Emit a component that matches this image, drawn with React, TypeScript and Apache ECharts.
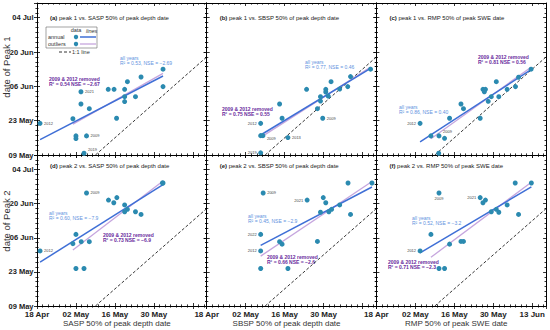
import React, { useEffect, useRef } from "react";
import * as echarts from "echarts";

// Axis origins as day-of-year (non-leap): 18 Apr = 108, 09 May = 129
const X0 = 108;
const Y0 = 129;
const X_SPAN = 61; // 18 Apr .. 18 Jun
const Y_SPAN = 62; // 09 May .. 10 Jul

const xTickLabels = ["18 Apr", "02 May", "16 May", "30 May", "13 Jun"];
const yTickLabels = ["09 May", "23 May", "06 Jun", "20 Jun", "04 Jul"];

const panelLetters = ["(a)", "(b)", "(c)", "(d)", "(e)", "(f)"];
const panelTitles = [
  "peak 1 vs. SASP 50% of peak depth date",
  "peak 1 vs. SBSP 50% of peak depth date",
  "peak 1 vs. RMP 50% of peak SWE date",
  "peak 2 vs. SASP 50% of peak depth date",
  "peak 2 vs. SBSP 50% of peak depth date",
  "peak 2 vs. RMP 50% of peak SWE date",
];
const xTitles = ["SASP 50% of peak depth date", "SBSP 50% of peak depth date", "RMP 50% of peak SWE date"];
const yTitles = ["date of Peak 1", "date of Peak 2"];

// [predictor date (DOY), peak date (DOY)]
const saspPeak1: number[][] = [
  [153.3, 164.0], [153.3, 156.9], [145.4, 160.8], [140.5, 158.9], [133.6, 155.8],
  [135.7, 155.8], [139.5, 155.8], [139.5, 152.8], [139.5, 150.8], [143.4, 152.8],
  [123.8, 154.8], [123.8, 149.8], [126.8, 147.9], [120.9, 143.8], [136.6, 144.0],
  [109.1, 141.9], [122.0, 136.8], [122.0, 135.7], [125.8, 136.8], [124.9, 129.7],
];
const sbspPeak1: number[][] = [
  [166.9, 164.0], [159.7, 161.0], [158.7, 156.9], [155.8, 155.9], [152.7, 158.9],
  [150.8, 155.8], [150.8, 154.7], [151.7, 153.0], [148.9, 152.8], [148.9, 151.0],
  [147.8, 147.9], [143.9, 155.8], [134.2, 149.8], [135.1, 144.0], [149.7, 144.0],
  [127.4, 141.9], [127.4, 136.9], [128.2, 136.9], [137.2, 136.1], [127.4, 129.9],
];
const rmpPeak1: number[][] = [
  [163.6, 164.0], [159.1, 160.7], [158.0, 156.9], [155.0, 155.8], [152.0, 152.8],
  [151.1, 158.9], [149.3, 152.8], [148.2, 150.9], [146.3, 155.8], [147.2, 155.8],
  [146.8, 154.8], [145.3, 144.0], [138.4, 149.8], [139.3, 147.9], [134.3, 144.0],
  [123.7, 141.9], [127.6, 136.8], [130.5, 136.8], [132.5, 135.8], [130.4, 129.7],
];
const saspPeak2: number[][] = [
  [153.1, 179.5], [153.3, 179.5], [125.8, 175.4], [133.7, 172.5], [136.7, 173.5],
  [135.6, 171.4], [139.5, 170.5], [140.5, 168.7], [139.5, 167.7], [143.4, 167.7],
  [145.4, 166.6], [122.0, 158.4], [120.9, 154.6], [123.9, 155.4], [126.8, 155.4],
  [109.1, 151.6], [122.0, 144.4], [124.9, 144.4],
];
const sbspPeak2: number[][] = [
  [158.8, 179.5], [167.4, 179.5], [128.3, 175.4], [144.1, 172.5], [149.9, 173.5],
  [150.8, 171.4], [155.8, 170.5], [152.9, 168.7], [151.9, 167.7], [148.9, 167.5],
  [159.7, 166.6], [127.4, 158.4], [134.2, 155.4], [135.1, 154.4], [147.8, 155.5],
  [127.4, 151.6], [127.4, 144.4], [137.2, 144.4],
];
const rmpPeak2: number[][] = [
  [163.7, 179.5], [157.9, 179.5], [130.5, 175.4], [145.3, 173.5], [147.2, 172.5],
  [146.3, 171.4], [155.0, 170.5], [151.1, 168.7], [149.3, 167.7], [152.0, 167.5],
  [159.1, 166.6], [127.6, 158.4], [134.3, 154.4], [138.4, 155.5], [139.3, 155.5],
  [123.7, 151.6], [130.5, 144.4], [132.5, 144.4],
];

// year labels: [point index, year]
const yearsA: [number, string][] = [[10, "2021"], [15, "2012"], [18, "2009"], [19, "2019"]];
const yearsB: [number, string][] = [[14, "2009"], [15, "2012"], [17, "2009"], [18, "2013"], [19, "2019"]];
const yearsC: [number, string][] = [[15, "2012"], [17, "2009"]];
const yearsD: [number, string][] = [[2, "2009"], [15, "2012"]];
const yearsE: [number, string][] = [[2, "2009"], [3, "2021"], [11, "2022"], [15, "2012"]];
const yearsF: [number, string][] = [[2, "2009"], [3, "2021"], [15, "2012"]];

// indices of 2009 and 2012 (removed in second fit)
const removedA = [15, 18];
const removedB = [15, 17];
const removedC = [15, 17];
const removedD = [2, 15];
const removedE = [2, 15];
const removedF = [2, 15];

const statsAll = [
  "R² = 0.53, NSE = −2.69", "R² = 0.77, NSE = 0.46", "R² = 0.86, NSE = 0.40",
  "R² = 0.60, NSE = −7.9", "R² = 0.45, NSE = −2.9", "R² = 0.52, NSE = −3.2",
];
const statsRemoved = [
  "R² = 0.54 NSE = −2.67", "R² = 0.75 NSE = 0.55", "R² = 0.81 NSE = 0.56",
  "R² = 0.73 NSE = −6.9", "R² = 0.66 NSE = −2.6", "R² = 0.71 NSE = −2.3",
];

// ---------- layout / style ----------
const FONT = "Liberation Sans, Arial, Helvetica, sans-serif";
const TEAL = "#2b8ab0";
const BLUE = "#3f6fd6";
const LAVENDER = "#c6a6de";
const ALL_TXT = "#5f93e0";
const REM_TXT = "#6a2c9e";
const GL = [37, 206.7, 376.4];
const GW = 169.7;
const GT = [3, 155];
const GH = [152, 151];

const panels = [
  { pts: saspPeak1, years: yearsA, removed: removedA },
  { pts: sbspPeak1, years: yearsB, removed: removedB },
  { pts: rmpPeak1, years: yearsC, removed: removedC },
  { pts: saspPeak2, years: yearsD, removed: removedD },
  { pts: sbspPeak2, years: yearsE, removed: removedE },
  { pts: rmpPeak2, years: yearsF, removed: removedF },
];
const labelPlace: Record<string, any> = {
  "0-10": { position: "right" }, "0-15": { position: "right" }, "0-18": { position: "right" },
  "0-19": { position: "right", offset: [0, -4] },
  "1-14": { position: "right" }, "1-15": { position: "left" }, "1-17": { position: "right", offset: [0, 3] },
  "1-18": { position: "right" }, "1-19": { position: "left" },
  "2-15": { position: "left" }, "2-17": { position: "right", offset: [0, -4] },
  "3-2": { position: "right" }, "3-15": { position: "right" },
  "4-2": { position: "right" }, "4-3": { position: "left" }, "4-11": { position: "left" }, "4-15": { position: "left" },
  "5-2": { position: "bottom" }, "5-3": { position: "left" }, "5-15": { position: "left" },
};
const statPos = [
  { all: [120, 58], rem: [49, 79] },
  { all: [305, 62], rem: [222, 109] },
  { all: [399, 107], rem: [478, 57] },
  { all: [49, 213], rem: [103, 235] },
  { all: [248, 216], rem: [267, 257] },
  { all: [412, 218], rem: [388, 262] },
];

function fit(pts: number[][]): number[][] {
  const n = pts.length;
  const mx = pts.reduce((s, p) => s + p[0], 0) / n;
  const my = pts.reduce((s, p) => s + p[1], 0) / n;
  let sxx = 0, sxy = 0;
  pts.forEach((p) => { sxx += (p[0] - mx) ** 2; sxy += (p[0] - mx) * (p[1] - my); });
  const b = sxy / sxx;
  const a = my - b * mx;
  const xs = pts.map((p) => p[0]);
  const x0 = Math.min(...xs), x1 = Math.max(...xs);
  return [[x0, a + b * x0], [x1, a + b * x1]];
}

const tickLabel = (labels: string[], maxIdx: number) => (v: number) => {
  const k = Math.round(v / 14);
  return Math.abs(v - k * 14) < 1e-6 && k <= maxIdx && labels[k] ? labels[k] : "";
};

const tickLine = { color: "#000", width: 0.8 };
const minor = () => ({ show: true, splitNumber: 7, length: 1.6, lineStyle: tickLine });

function buildAxes(i: number) {
  const r = Math.floor(i / 3), c = i % 3;
  const xb = { gridIndex: i, type: "value", min: 0, max: X_SPAN, interval: 14, splitLine: { show: false } };
  const yb = { gridIndex: i, type: "value", min: 0, max: Y_SPAN, interval: 14, splitLine: { show: false } };
  const line = { show: true, onZero: false, lineStyle: { color: "#000", width: 1 } };
  const x = [
    {
      ...xb, position: "bottom", axisLine: line,
      axisTick: { show: true, inside: false, length: 3, lineStyle: tickLine }, minorTick: minor(),
      axisLabel: {
        show: r === 1, formatter: tickLabel(xTickLabels, c === 2 ? 4 : 3),
        fontSize: 8, fontWeight: "bold", color: "#222", margin: 4, fontFamily: FONT,
      },
    },
    { ...xb, position: "bottom", axisLine: { show: false, onZero: false }, axisTick: { show: true, inside: true, length: 3, lineStyle: tickLine }, minorTick: minor(), axisLabel: { show: false } },
    { ...xb, position: "top", axisLine: line, axisTick: { show: true, inside: true, length: 3, lineStyle: tickLine }, minorTick: minor(), axisLabel: { show: false } },
  ];
  const y = [
    {
      ...yb, position: "left", axisLine: line,
      axisTick: { show: true, inside: false, length: 3, lineStyle: tickLine }, minorTick: minor(),
      axisLabel: {
        show: c === 0, formatter: tickLabel(yTickLabels, 4),
        fontSize: 7.5, fontWeight: "bold", color: "#222", margin: 3.5, fontFamily: FONT,
      },
    },
    { ...yb, position: "left", axisLine: { show: false, onZero: false }, axisTick: { show: true, inside: true, length: 3, lineStyle: tickLine }, minorTick: minor(), axisLabel: { show: false } },
    { ...yb, position: "right", axisLine: line, axisTick: { show: true, inside: true, length: 3, lineStyle: tickLine }, minorTick: minor(), axisLabel: { show: false } },
  ];
  return { x, y };
}

function buildOption() {
  const grids: any[] = [];
  const xAxis: any[] = [];
  const yAxis: any[] = [];
  const series: any[] = [];
  const graphic: any[] = [];

  panels.forEach((p, i) => {
    const r = Math.floor(i / 3), c = i % 3;
    grids.push({ left: GL[c], top: GT[r], width: GW, height: GH[r], containLabel: false });
    const ax = buildAxes(i);
    xAxis.push(...ax.x);
    yAxis.push(...ax.y);
    const xi = i * 3, yi = i * 3;
    const off = (q: number[]) => [q[0] - X0, q[1] - Y0];

    // 1:1 line (same calendar date on both axes)
    const d0 = Y0 - X0;
    series.push({
      type: "line", xAxisIndex: xi, yAxisIndex: yi, symbol: "none", silent: true, z: 1,
      data: [[d0, 0], [X_SPAN, X_SPAN - d0]],
      lineStyle: { color: "#000", width: 0.8, type: [3, 2] },
    });
    const kept = p.pts.filter((_, k) => !p.removed.includes(k));
    series.push({
      type: "line", xAxisIndex: xi, yAxisIndex: yi, symbol: "none", silent: true, z: 2,
      data: fit(kept).map(off), lineStyle: { color: LAVENDER, width: 1.3 },
    });
    series.push({
      type: "line", xAxisIndex: xi, yAxisIndex: yi, symbol: "none", silent: true, z: 3,
      data: fit(p.pts).map(off), lineStyle: { color: BLUE, width: 1.5 },
    });
    series.push({
      type: "scatter", xAxisIndex: xi, yAxisIndex: yi, symbolSize: 5, z: 5,
      itemStyle: { color: TEAL, opacity: 1 },
      data: p.pts.map((q, k) => {
        const yr = p.years.find((e) => e[0] === k);
        const item: any = { value: off(q) };
        if (yr) {
          const pl = labelPlace[`${i}-${k}`] || { position: "right" };
          item.label = { show: true, formatter: yr[1], fontSize: 4, color: "#444", distance: 1.5, fontFamily: FONT, ...pl };
        }
        return item;
      }),
    });

    // panel title
    graphic.push({
      type: "text", x: GL[c] + 13, y: r === 0 ? 18 : 166,
      style: {
        text: `{b|${panelLetters[i]}} ${panelTitles[i]}`,
        rich: { b: { fontWeight: "bold", fontSize: 6, fontFamily: FONT, fill: "#222" } },
        fontSize: 6, fontFamily: FONT, fill: "#222", verticalAlign: "middle", align: "left",
      },
    });
    // stats annotations
    const sp = statPos[i];
    graphic.push({ type: "text", x: sp.all[0], y: sp.all[1], style: { text: "all years", fontSize: 5, fontFamily: FONT, fill: ALL_TXT, verticalAlign: "middle" } });
    graphic.push({ type: "text", x: sp.all[0], y: sp.all[1] + 5, style: { text: statsAll[i], fontSize: 5, fontFamily: FONT, fill: ALL_TXT, verticalAlign: "middle" } });
    graphic.push({ type: "text", x: sp.rem[0], y: sp.rem[1], style: { text: "2009 & 2012 removed", fontSize: 5, fontWeight: "bold", fontFamily: FONT, fill: REM_TXT, verticalAlign: "middle" } });
    graphic.push({ type: "text", x: sp.rem[0], y: sp.rem[1] + 5, style: { text: statsRemoved[i], fontSize: 5, fontWeight: "bold", fontFamily: FONT, fill: REM_TXT, verticalAlign: "middle" } });
  });

  // axis titles
  xTitles.forEach((t, c) => {
    graphic.push({ type: "text", x: GL[c] + GW / 2 - 5, y: 323, style: { text: t, fontSize: 8, fontFamily: FONT, fill: "#333", align: "center", verticalAlign: "middle" } });
  });
  const yTitleY = [67, 221];
  yTitles.forEach((t, r) => {
    graphic.push({ type: "text", x: 6, y: yTitleY[r], rotation: Math.PI / 2, style: { text: t, fontSize: 9.5, fontFamily: FONT, fill: "#333", align: "center", verticalAlign: "middle" } });
  });

  // legend box in panel (a)
  graphic.push({ type: "rect", shape: { x: 46, y: 27, width: 51, height: 21 }, style: { fill: "#fff", stroke: "#666", lineWidth: 0.6 }, z: 10 });
  const lt = (text: string, x: number, y: number, extra: any = {}) => ({
    type: "text", x, y, z: 11, style: { text, fontSize: 5.5, fontFamily: FONT, fill: "#333", verticalAlign: "middle", ...extra },
  });
  graphic.push(lt("data", 76, 30, { align: "center" }));
  graphic.push(lt("lines", 86, 31, { fontStyle: "italic" }));
  graphic.push(lt("annual", 48, 37));
  graphic.push(lt("outliers", 48, 44));
  graphic.push({ type: "circle", z: 11, shape: { cx: 76, cy: 37, r: 2.2 }, style: { fill: TEAL } });
  graphic.push({ type: "circle", z: 11, shape: { cx: 76, cy: 44, r: 2.2 }, style: { fill: TEAL } });
  graphic.push({ type: "line", z: 11, shape: { x1: 80, y1: 37, x2: 96, y2: 37 }, style: { stroke: BLUE, lineWidth: 1.5 } });
  graphic.push({ type: "line", z: 11, shape: { x1: 80, y1: 44, x2: 96, y2: 44 }, style: { stroke: LAVENDER, lineWidth: 1.3 } });
  graphic.push({ type: "line", z: 11, shape: { x1: 59, y1: 52, x2: 71, y2: 52 }, style: { stroke: "#000", lineWidth: 0.8, lineDash: [3, 2] } });
  graphic.push(lt("1:1 line", 72, 52));

  return {
    animation: false,
    textStyle: { fontFamily: FONT },
    grid: grids,
    xAxis,
    yAxis,
    series,
    graphic,
  };
}

export default function App() {
  const ref = useRef<HTMLDivElement>(null);
  useEffect(() => {
    if (!ref.current) return;
    const chart = echarts.init(ref.current, undefined, { renderer: "svg" });
    chart.setOption(buildOption() as any);
    return () => chart.dispose();
  }, []);
  return (
    <div
      ref={ref}
      style={{ position: "fixed", left: 0, top: 0, width: 550, height: 330, background: "#fff" }}
    />
  );
}
